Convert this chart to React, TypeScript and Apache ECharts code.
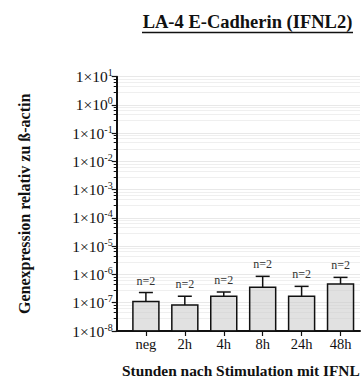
import React, { useEffect, useRef } from "react";
import * as echarts from "echarts";

const categories = ["neg", "2h", "4h", "8h", "24h", "48h"];
const means = [1.1e-7, 8.4e-8, 1.7e-7, 3.5e-7, 1.7e-7, 4.6e-7];
const sds = [1.2e-7, 8.6e-8, 7e-8, 5.1e-7, 2.1e-7, 3.3e-7];
const nLabels = ["n=2", "n=2", "n=2", "n=2", "n=2", "n=2"];
const yMin = 1e-8;
const yMax = 1e1;

const SERIF = "'Liberation Serif', 'DejaVu Serif', serif";

export default function App() {
  const ref = useRef<HTMLDivElement>(null);
  useEffect(() => {
    document.body.style.margin = "0";
    if (!ref.current) return;
    const chart = echarts.init(ref.current, undefined, { renderer: "svg" });
    const slots = 26;
    const xCats: string[] = [];
    for (let i = 0; i < slots; i++) xCats.push("_" + i);
    const slotOf = (i: number) => 3 + 4 * i;
    categories.forEach((c, i) => (xCats[slotOf(i)] = c));
    const data = means.map((m, i) => [slotOf(i), m, m + sds[i], nLabels[i]]);

    chart.setOption({
      animation: false,
      grid: { left: 116.7, right: -3.7, top: 76.7, bottom: 59 },
      graphic: [
        {
          type: "text",
          x: 247.5,
          y: 22,
          style: {
            text: "LA-4 E-Cadherin (IFNL2)",
            font: `bold 18.5px ${SERIF}`,
            fill: "#111",
            textAlign: "center",
            textVerticalAlign: "middle",
          },
        },
        {
          type: "line",
          shape: { x1: 142, y1: 32.5, x2: 353, y2: 32.5 },
          style: { stroke: "#111", lineWidth: 1.5 },
        },
        {
          type: "text",
          x: 122,
          y: 370,
          style: {
            text: "Stunden nach Stimulation mit IFNL",
            font: `bold 15.4px ${SERIF}`,
            fill: "#111",
            textAlign: "left",
            textVerticalAlign: "middle",
          },
        },
      ],
      xAxis: {
        type: "category",
        data: xCats,
        boundaryGap: false,
        axisLine: { lineStyle: { color: "#111", width: 2 } },
        axisTick: {
          interval: (idx: number, v: string) => !v.startsWith("_"),
          length: 5,
          lineStyle: { color: "#111", width: 1.2 },
        },
        axisLabel: {
          interval: 0,
          formatter: (v: string) => (v.startsWith("_") ? "" : v),
          fontFamily: SERIF,
          fontSize: 14.5,
          color: "#111",
          margin: 5,
        },
        splitLine: { show: false },
      },
      yAxis: {
        type: "log",
        logBase: 10,
        min: yMin,
        max: yMax,
        name: "Genexpression relativ zu ß-actin",
        nameLocation: "middle",
        nameGap: 84,
        nameTextStyle: { fontFamily: SERIF, fontWeight: "bold", fontSize: 16, color: "#111" },
        axisLine: { show: true, lineStyle: { color: "#111", width: 2 } },
        axisTick: { show: true, length: 5, lineStyle: { color: "#111", width: 1.2 } },
        minorTick: { show: true, splitNumber: 5, length: 3, lineStyle: { color: "#111", width: 1 } },
        splitLine: { show: true, lineStyle: { color: "#e8e8e8", width: 1 } },
        minorSplitLine: { show: true, lineStyle: { color: "#efefef", width: 1 } },
        axisLabel: {
          margin: 4,
          formatter: (v: number) => {
            const e = Math.round(Math.log10(v));
            return `{b|1×10}{s|${e < 0 ? "-" + -e : e}}`;
          },
          rich: {
            b: { fontFamily: SERIF, fontSize: 15.5, color: "#111" },
            s: { fontFamily: SERIF, fontSize: 10, color: "#111", padding: [0, 0, 8, 0] },
          },
        },
      },
      series: [
        {
          type: "custom",
          data,
          z: 3,
          renderItem: (params: any, api: any) => {
            const x = api.value(0);
            const top = api.coord([x, api.value(1)]);
            const base = api.coord([x, yMin]);
            const hi = api.coord([x, api.value(2)]);
            const label = data[params.dataIndex][3] as string;
            const bw = 26;
            return {
              type: "group",
              children: [
                {
                  type: "rect",
                  shape: { x: top[0] - bw / 2, y: top[1], width: bw, height: base[1] - top[1] },
                  style: { fill: "rgba(200,200,200,0.55)", stroke: "#111", lineWidth: 1.5 },
                },
                {
                  type: "line",
                  shape: { x1: top[0], y1: top[1], x2: hi[0], y2: hi[1] },
                  style: { stroke: "#111", lineWidth: 1.5 },
                },
                {
                  type: "line",
                  shape: { x1: hi[0] - 7, y1: hi[1], x2: hi[0] + 7, y2: hi[1] },
                  style: { stroke: "#111", lineWidth: 1.5 },
                },
                {
                  type: "text",
                  x: hi[0],
                  y: hi[1] - 12,
                  style: {
                    text: label,
                    font: `12px ${SERIF}`,
                    fill: "#333",
                    textAlign: "center",
                    textVerticalAlign: "middle",
                  },
                },
              ],
            };
          },
        },
      ],
    });
    return () => chart.dispose();
  }, []);
  return <div ref={ref} style={{ width: 363, height: 390 }} />;
}
